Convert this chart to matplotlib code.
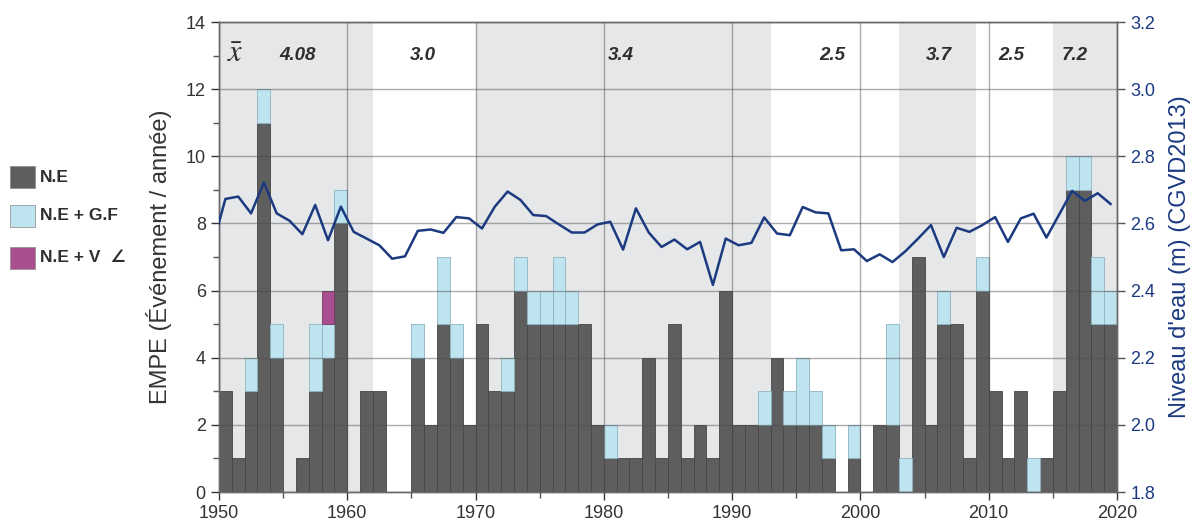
import numpy as np
import matplotlib.pyplot as plt
from matplotlib.patches import Rectangle

# events per year (EMPE), 1950-2019
years = np.arange(1950, 2020)
ne = [3, 1, 3, 11, 4, 0, 1, 3, 4, 8,
      0, 3, 3, 0, 0, 4, 2, 5, 4, 2,
      5, 3, 3, 6, 5, 5, 5, 5, 5, 2,
      1, 1, 1, 4, 1, 5, 1, 2, 1, 6,
      2, 2, 2, 4, 2, 2, 2, 1, 0, 1,
      0, 2, 2, 0, 7, 2, 5, 5, 1, 6,
      3, 1, 3, 0, 1, 3, 9, 9, 5, 5]
gf = [0, 0, 1, 1, 1, 0, 0, 2, 1, 1,
      0, 0, 0, 0, 0, 1, 0, 2, 1, 0,
      0, 0, 1, 1, 1, 1, 2, 1, 0, 0,
      1, 0, 0, 0, 0, 0, 0, 0, 0, 0,
      0, 0, 1, 0, 1, 2, 1, 1, 0, 1,
      0, 0, 3, 1, 0, 0, 1, 0, 0, 1,
      0, 0, 0, 1, 0, 0, 1, 1, 2, 1]
v = [0] * 70
v[1958 - 1950] = 1

# water level (m CGVD2013), one value per year
level_years = np.arange(1949, 2020)
level = [2.533, 2.673, 2.680, 2.630, 2.722, 2.630, 2.608, 2.568, 2.655, 2.550,
         2.650, 2.575, 2.555, 2.535, 2.495, 2.502, 2.578, 2.582, 2.572, 2.619,
         2.615, 2.585, 2.650, 2.695, 2.670, 2.625, 2.622, 2.597, 2.573, 2.573,
         2.597, 2.605, 2.522, 2.645, 2.573, 2.530, 2.552, 2.523, 2.545, 2.417,
         2.555, 2.535, 2.542, 2.618, 2.570, 2.565, 2.649, 2.633, 2.630, 2.520,
         2.523, 2.488, 2.508, 2.485, 2.517, 2.555, 2.595, 2.500, 2.587, 2.575,
         2.595, 2.619, 2.545, 2.615, 2.629, 2.558, 2.627, 2.697, 2.667, 2.690,
         2.658]

# shaded periods and their means
shaded = [(1950, 1962), (1970, 1993), (2003, 2009), (2015, 2020)]
mean_pos = [1956.1, 1965.9, 1981.3, 1997.8, 2006.1, 2011.8, 2016.7]
mean_txt = ["4.08", "3.0", "3.4", "2.5", "3.7", "2.5", "7.2"]

c_ne = "#5e5e5e"
c_gf = "#bee4f0"
c_v = "#a94e8e"
c_line = "#1b3a80"
c_edge = "#454545"

plt.rcParams['font.family'] = ['Liberation Sans', 'DejaVu Sans']

fig = plt.figure(figsize=(11.94, 5.27), dpi=100)
ax = fig.add_axes([0.1834, 0.0664, 0.7521, 0.8918])

for a, b in shaded:
    ax.axvspan(a, b, color="#e6e7e9", zorder=0, lw=0)

ne_a = np.array(ne)
gf_a = np.array(gf)
v_a = np.array(v)


def stack(vals, bottom, color, edge):
    m = vals > 0
    ax.bar(years[m], vals[m], bottom=bottom[m], width=1, align='edge',
           color=color, edgecolor=edge, lw=0.6, zorder=2)


stack(ne_a, np.zeros_like(ne_a), c_ne, c_edge)
stack(gf_a, ne_a, c_gf, "#8fb4c2")
stack(v_a, ne_a + gf_a, c_v, "#7a3a68")

ax.set_xlim(1950, 2020)
ax.set_ylim(0, 14)
ax.set_xticks(np.arange(1950, 2021, 10))
ax.set_xticks(np.arange(1955, 2020, 10), minor=True)
ax.set_yticks(np.arange(0, 15, 2))
ax.set_yticks(np.arange(1, 14, 2), minor=True)
ax.grid(True, which='major', color="#4a4a4a", alpha=0.45, lw=1.0, zorder=3)
ax.set_axisbelow(False)
ax.tick_params(axis='both', which='major', labelsize=13, colors="#333333", length=6, width=1)
ax.tick_params(axis='both', which='minor', length=4, width=1, colors="#555555")
ax.tick_params(axis='y', which='both', right=False)
ax.set_ylabel("EMPE (Événement / année)", fontsize=17, color="#333333", labelpad=10)
for s in ax.spines.values():
    s.set_color("#6a6a6a")
    s.set_linewidth(1.0)

for x, t in zip(mean_pos, mean_txt):
    ax.text(x, 13.0, t, ha='center', va='center', fontsize=13.5,
            fontweight='bold', fontstyle='italic', color="#2e2e2e", zorder=5)
ax.text(1951.3, 13.05, r"$\bar{x}$", ha='center', va='center', fontsize=22,
        math_fontfamily='stix', color="#2e2e2e", zorder=5)

ax2 = ax.twinx()
ax2.plot(level_years + 0.5, level, color=c_line, lw=1.8, zorder=6)
ax2.set_ylim(1.8, 3.2)
ax2.set_yticks(np.arange(1.8, 3.21, 0.2))
ax2.set_yticklabels([f"{t:.1f}" for t in np.arange(1.8, 3.21, 0.2)])
ax2.tick_params(axis='y', labelsize=13, colors=c_line, length=6, width=1)
ax2.tick_params(axis='y', which='major', color="#555555")
ax2.set_ylabel("Niveau d'eau (m) (CGVD2013)", fontsize=17, color=c_line, labelpad=10)
ax2.set_xlim(1950, 2020)
for s in ax2.spines.values():
    s.set_color("#6a6a6a")
    s.set_linewidth(1.0)

# legend on the left
W, H = 1194, 527
items = [(c_ne, "N.E", 177), (c_gf, "N.E + G.F", 216), (c_v, "N.E + V  \u2220", 258)]
for col, lab, yc in items:
    fig.patches.append(Rectangle((10 / W, 1 - (yc + 11) / H), 25 / W, 22 / H,
                                 transform=fig.transFigure, facecolor=col,
                                 edgecolor="#888888", lw=0.5))
    fig.text(40 / W, 1 - yc / H, lab, ha='left', va='center', fontsize=12.5,
             fontweight='bold', color="#2e2e2e")

fig.savefig("out.png", dpi=100)
